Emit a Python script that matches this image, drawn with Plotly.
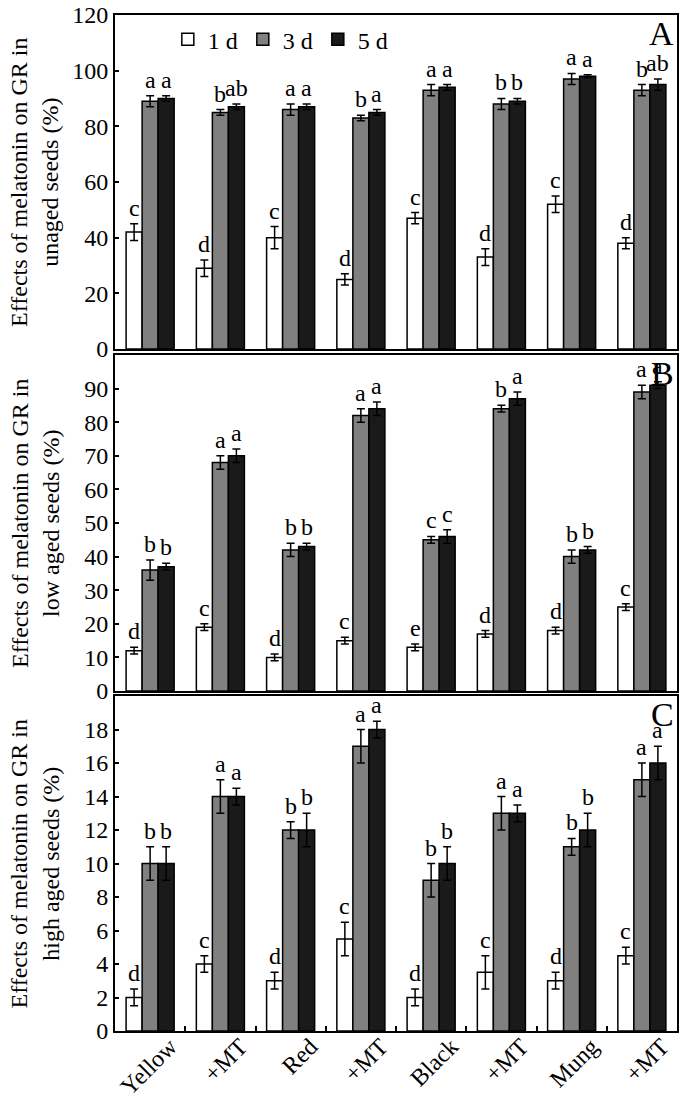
import numpy as np
import plotly.graph_objects as go

groups = ["Yellow", "+MT", "Red", "+MT", "Black", "+MT", "Mung", "+MT"]
days = ["1 d", "3 d", "5 d"]

# panel A: unaged seeds
a_mean = [[42, 29, 40, 25, 47, 33, 52, 38],
          [89, 85, 86, 83, 93, 88, 97, 93],
          [90, 87, 87, 85, 94, 89, 98, 95]]
a_err = [[3, 3, 4, 2, 2, 3, 3, 2],
         [2, 1, 2, 1, 2, 2, 2, 2],
         [1, 1, 1, 1, 1, 1, 0.5, 2]]
a_let = [["c", "d", "c", "d", "c", "d", "c", "d"],
         ["a", "b", "a", "b", "a", "b", "a", "b"],
         ["a", "ab", "a", "a", "a", "b", "a", "ab"]]

# panel B: low aged seeds
b_mean = [[12, 19, 10, 15, 13, 17, 18, 25],
          [36, 68, 42, 82, 45, 84, 40, 89],
          [37, 70, 43, 84, 46, 87, 42, 91]]
b_err = [[1, 1, 1, 1, 1, 1, 1, 1],
         [3, 2, 2, 2, 1, 1, 2, 2],
         [1, 2, 1, 2, 2, 2, 1, 1]]
b_let = [["d", "c", "d", "c", "e", "d", "d", "c"],
         ["b", "a", "b", "a", "c", "b", "b", "a"],
         ["b", "a", "b", "a", "c", "a", "b", "a"]]

# panel C: high aged seeds
c_mean = [[2, 4, 3, 5.5, 2, 3.5, 3, 4.5],
          [10, 14, 12, 17, 9, 13, 11, 15],
          [10, 14, 12, 18, 10, 13, 12, 16]]
c_err = [[0.5, 0.5, 0.5, 1, 0.5, 1, 0.5, 0.5],
         [1, 1, 0.5, 1, 1, 1, 0.5, 1],
         [1, 0.5, 1, 0.5, 1, 0.5, 1, 1]]
c_let = [["d", "c", "d", "c", "d", "c", "d", "c"],
         ["b", "a", "b", "a", "b", "a", "b", "a"],
         ["b", "a", "b", "a", "b", "a", "b", "a"]]

a_ticks = [0, 20, 40, 60, 80, 100, 120]
b_ticks = [0, 10, 20, 30, 40, 50, 60, 70, 80, 90]
c_ticks = [0, 2, 4, 6, 8, 10, 12, 14, 16, 18]

colors = ["white", "#808080", "#1a1a1a"]
FONT = "Liberation Serif"

panels = [
    (a_mean, a_err, a_let, "Effects of melatonin on GR in<br>unaged seeds (%)", [0, 120], a_ticks, "A", [0.6713, 1.0]),
    (b_mean, b_err, b_let, "Effects of melatonin on GR in<br>low aged seeds (%)", [0, 100], b_ticks, "B", [0.3346, 0.6654]),
    (c_mean, c_err, c_let, "Effects of melatonin on GR in<br>high aged seeds (%)", [0, 20], c_ticks, "C", [0.0, 0.3297]),
]

x = np.arange(len(groups))
bw = 0.228

fig = go.Figure()
annotations = []
for p, (mean, err, let, ytitle, yr, tv, tag, dom) in enumerate(panels):
    xa = "x" if p == 0 else "x%d" % (p + 1)
    ya = "y" if p == 0 else "y%d" % (p + 1)
    for k in range(3):
        fig.add_bar(x=x, y=mean[k], name=days[k], xaxis=xa, yaxis=ya,
                    marker=dict(color=colors[k], line=dict(color="black", width=1.5)),
                    error_y=dict(type="data", array=err[k], color="black", thickness=1.5, width=4),
                    offsetgroup=str(k), showlegend=(p == 0))
        for i in range(len(groups)):
            annotations.append(dict(x=x[i] + (k - 1) * bw, y=mean[k][i] + err[k][i],
                                    xref=xa, yref=ya, text=let[k][i], showarrow=False,
                                    yanchor="bottom", yshift=1,
                                    font=dict(family=FONT, size=24, color="black")))
    annotations.append(dict(x=1, y=1, xref=xa + " domain", yref=ya + " domain", text=tag,
                            showarrow=False, xanchor="right", yanchor="top", xshift=-1, yshift=2,
                            font=dict(family=FONT, size=34, color="black")))
    annotations.append(dict(x=0, y=(dom[0] + dom[1]) / 2, xref="paper", yref="paper", text=ytitle,
                            showarrow=False, textangle=-90, xanchor="center", yanchor="middle",
                            xshift=-80, font=dict(family=FONT, size=24, color="black")))

    xkey = "xaxis" if p == 0 else "xaxis%d" % (p + 1)
    ykey = "yaxis" if p == 0 else "yaxis%d" % (p + 1)
    xdict = dict(domain=[0, 1], anchor=ya, range=[-0.5, 7.5], showline=True, mirror=True,
                 linecolor="black", linewidth=2, showgrid=False, zeroline=False, automargin=False)
    if p == 2:
        xdict.update(tickvals=list(x), ticktext=groups, tickangle=-45, ticks="",
                     ticklabelshift=20, ticklabelstandoff=-10,
                     tickfont=dict(family=FONT, size=24, color="black"),
                     minor=dict(tickvals=list(x[:-1] + 0.5), ticks="inside", ticklen=5,
                                tickwidth=2, tickcolor="black"))
    else:
        xdict.update(showticklabels=False, ticks="")
    fig.layout[xkey] = xdict
    fig.layout[ykey] = dict(domain=dom, anchor=xa, range=yr, tickvals=tv,
                            showline=True, mirror=True, linecolor="black", linewidth=2,
                            ticks="inside", ticklen=4, tickwidth=1.5, tickcolor="black",
                            showgrid=False, zeroline=False, automargin=False,
                            ticklabeloverflow="allow",
                            tickfont=dict(family=FONT, size=24, color="black"))

fig.update_layout(
    width=685, height=1102,
    margin=dict(l=115, r=8, t=15, b=71),
    barmode="group", bargap=0.316, bargroupgap=0,
    plot_bgcolor="white", paper_bgcolor="white",
    font=dict(family=FONT, size=24, color="black"),
    legend=dict(orientation="h", x=0.094, y=0.998, xanchor="left", yanchor="top",
                bgcolor="rgba(0,0,0,0)", itemwidth=30, font=dict(family=FONT, size=24)),
    annotations=annotations,
)

# drop the page's default body margin so the figure sits at the window corner
fig.write_html("out.html", config={"displayModeBar": False},
               post_script="document.body.style.margin='0px';")
